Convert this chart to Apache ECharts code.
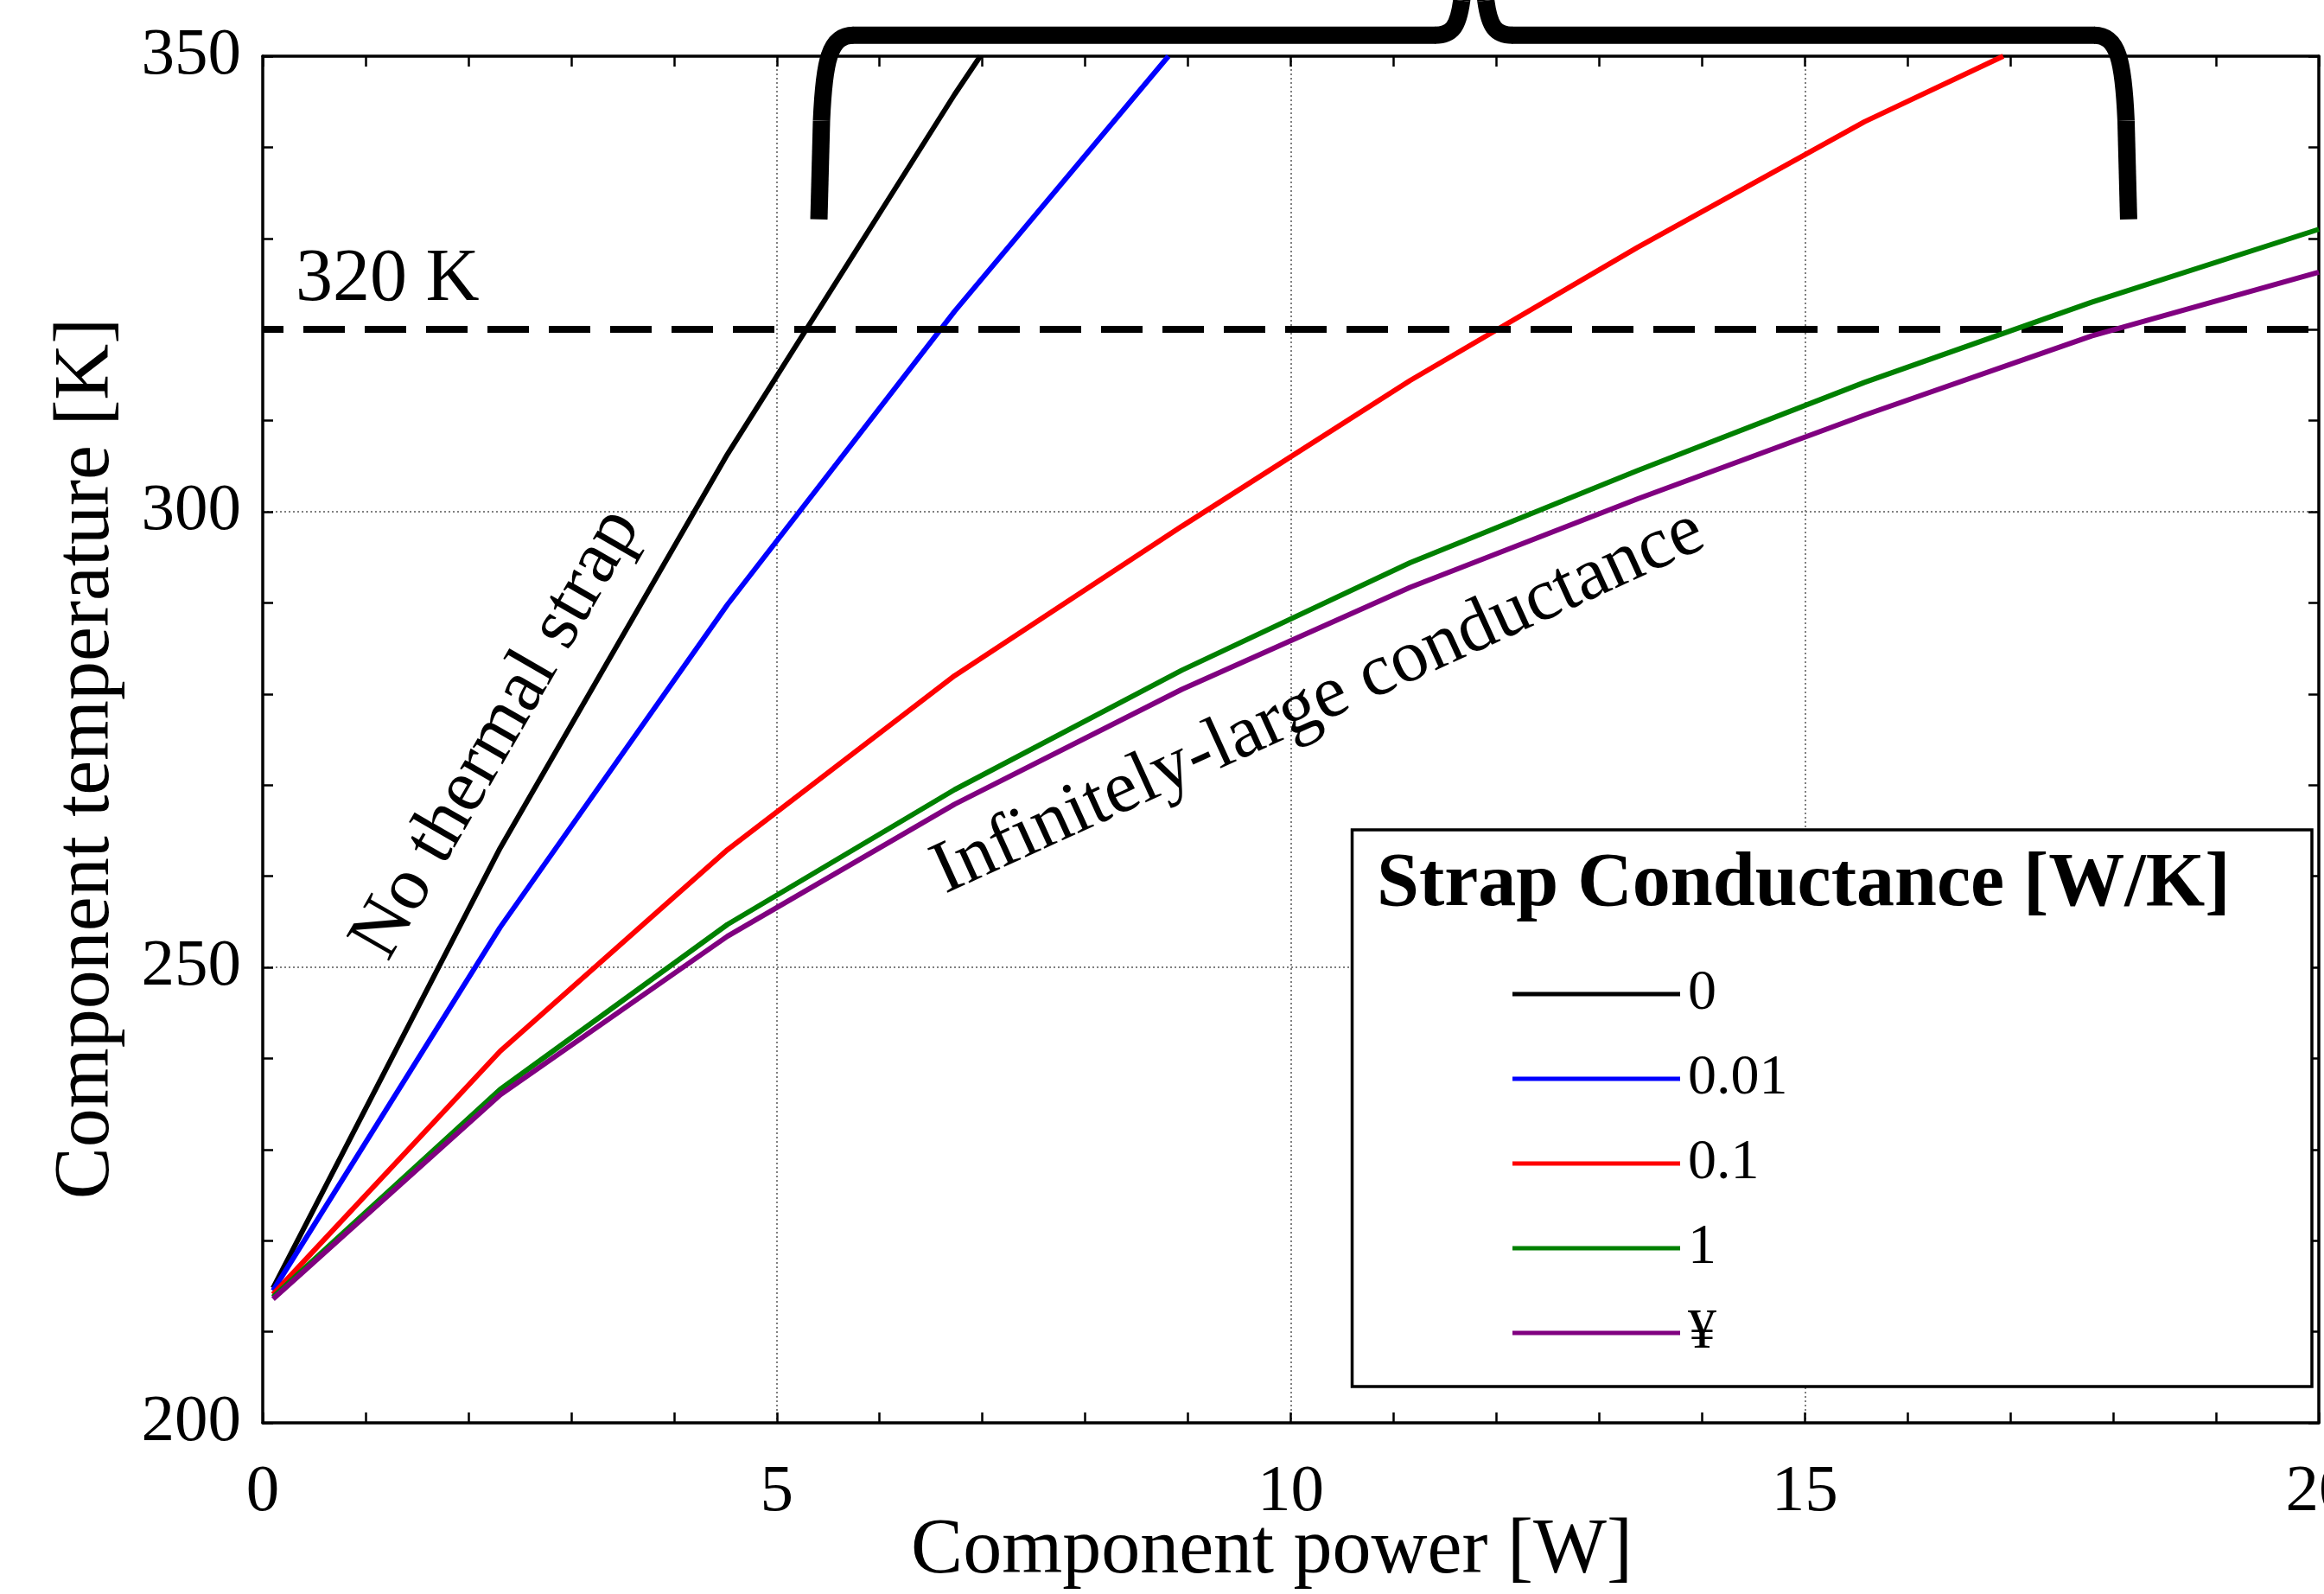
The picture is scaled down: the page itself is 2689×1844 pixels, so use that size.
<!DOCTYPE html>
<html lang="en">
<head>
<meta charset="utf-8">
<title>Component temperature vs power</title>
<script src="https://cdn.jsdelivr.net/npm/echarts@6/dist/echarts.min.js"></script>
<style>
    html, body { margin: 0; padding: 0; background: #fff; }
    #main { width: 2689px; height: 1844px; }
</style>
</head>
<body>
<div id="main"></div>
<script type="text/javascript">
    // component power [W]
    var power = [0.1, 2.31, 4.52, 6.73, 8.94, 11.16, 13.37, 15.58, 17.79, 20];
    // component temperature [K], one list per strap conductance
    var tempG0   = [214.8, 263.1, 306.3, 345.8];
    var tempG001 = [214.5, 254.4, 289.8, 322.0];
    var tempG01  = [214.1, 240.8, 262.9, 282.0, 298.4, 314.4, 329.0, 342.8];
    var tempG1   = [213.8, 236.6, 254.7, 269.5, 282.6, 294.4, 304.5, 314.2, 323.0, 331.0];
    var tempGinf = [213.6, 236.0, 253.4, 267.9, 280.5, 291.7, 301.4, 310.6, 319.3, 326.3];
    // power where the steep curves run out of the top of the plot
    var exitPower = [6.98, 8.81, 16.93, null, null];

    var names = ['0', '0.01', '0.1', '1', '¥'];
    var colors = ['#000000', '#0000ff', '#ff0000', '#008000', '#800080'];
    var xTicks = [0, 5, 10, 15, 20];
    var yTicks = [200, 250, 300, 350];
    var limitTemp = 320;

    var serif = "'Liberation Serif', 'Times New Roman', serif";
    var black = '#000';

    var temps = [tempG0, tempG001, tempG01, tempG1, tempGinf];
    var yTop = yTicks[yTicks.length - 1];

    var series = temps.map(function (t, i) {
        var pts = t.map(function (v, j) { return [power[j], v]; });
        if (exitPower[i] != null) pts.push([exitPower[i], yTop]);
        return {
            name: names[i],
            type: 'line',
            data: pts,
            showSymbol: false,
            symbol: 'none',
            clip: true,
            z: 2 + i,
            lineStyle: { color: colors[i], width: 6 },
            itemStyle: { color: colors[i] }
        };
    });

    // 320 K limit
    series[series.length - 1].markLine = {
        silent: true,
        symbol: 'none',
        label: { show: false },
        lineStyle: { color: black, width: 8, type: [48, 23], dashOffset: 24 },
        data: [{ yAxis: limitTemp }]
    };

    var gridLine = { color: '#808080', width: 2, type: [2, 3] };

    function xAxisCfg(pos) {
        var main = pos === 'bottom';
        return {
            type: 'value',
            position: pos,
            min: xTicks[0],
            max: xTicks[xTicks.length - 1],
            interval: xTicks[1] - xTicks[0],
            axisLine: { show: true, onZero: false, lineStyle: { color: black, width: 3.5 } },
            axisTick: { show: true, inside: true, length: 12, lineStyle: { color: black, width: 2.5 } },
            minorTick: { show: true, splitNumber: 5, length: 12, lineStyle: { color: black, width: 2.5 } },
            splitLine: { show: main, lineStyle: gridLine },
            axisLabel: { show: main, margin: 42, color: black, fontFamily: serif, fontSize: 77 },
            name: main ? 'Component power [W]' : '',
            nameLocation: 'middle',
            nameGap: 104,
            nameMoveOverlap: false,
            nameTextStyle: { color: black, fontFamily: serif, fontSize: 90, padding: [0, 44, 0, 0] }
        };
    }

    function yAxisCfg(pos) {
        var main = pos === 'left';
        return {
            type: 'value',
            position: pos,
            min: yTicks[0],
            max: yTop,
            interval: yTicks[1] - yTicks[0],
            axisLine: { show: true, onZero: false, lineStyle: { color: black, width: 3.5 } },
            axisTick: { show: true, inside: true, length: 12, lineStyle: { color: black, width: 2.5 } },
            minorTick: { show: true, splitNumber: 5, length: 12, lineStyle: { color: black, width: 2.5 } },
            splitLine: { show: main, lineStyle: gridLine },
            axisLabel: { show: main, margin: 25, color: black, fontFamily: serif, fontSize: 77 },
            name: main ? 'Component temperature [K]' : '',
            nameLocation: 'middle',
            nameGap: 158,
            nameMoveOverlap: false,
            nameTextStyle: { color: black, fontFamily: serif, fontSize: 90, padding: [0, 44, 0, 0] }
        };
    }

    var option = {
        backgroundColor: '#fff',
        animation: false,
        grid: { left: 304, right: 6, top: 65, bottom: 198, containLabel: false, outerBoundsMode: 'none' },
        xAxis: [xAxisCfg('bottom'), xAxisCfg('top')],
        yAxis: [yAxisCfg('left'), yAxisCfg('right')],
        legend: {
            orient: 'vertical',
            left: 1750,
            top: 1117,
            padding: 0,
            itemWidth: 194,
            itemHeight: 5,
            itemGap: 32,
            icon: 'rect',
            z: 10,
            selectedMode: false,
            textStyle: { color: black, fontFamily: serif, fontSize: 66, lineHeight: 66, padding: [0, 0, 0, 4] },
            data: names
        },
        series: series
    };

    var chart = echarts.init(document.getElementById('main'));
    chart.setOption(option);

    function px(p) { return chart.convertToPixel({ gridIndex: 0 }, p); }

    // annotation anchors in data units
    var label320At = [0.32, 325.4];
    var noStrapAt = [2.28, 275.6];
    var infiniteAt = [10.27, 279.1];
    var braceX = [5.41, 11.78, 18.15];
    var braceY = [332.1, 352.3];

    var a = px([braceX[0], braceY[0]]);
    var m = px([braceX[1], braceY[1]]);
    var b = px([braceX[2], braceY[0]]);
    var L = a[0], R = b[0], M = m[0], yb = a[1], yt = m[1];

    var braceStyle = { stroke: black, lineWidth: 20, fill: null, lineCap: 'butt' };
    function seg(x1, y1, x2, y2) {
        return { type: 'line', z: 20, silent: true, shape: { x1: x1, y1: y1, x2: x2, y2: y2 }, style: braceStyle };
    }
    function curve(x1, y1, c1x, c1y, c2x, c2y, x2, y2) {
        return {
            type: 'bezierCurve', z: 20, silent: true,
            shape: { x1: x1, y1: y1, cpx1: c1x, cpy1: c1y, cpx2: c2x, cpy2: c2y, x2: x2, y2: y2 },
            style: braceStyle
        };
    }

    var brace = [
        seg(L, yb, L + 3, yb - 114),
        curve(L + 3, yb - 114, L + 6, yt + 30, L + 12, yt, L + 40, yt),
        seg(L + 39, yt, M - 44, yt),
        curve(M - 45, yt, M - 25, yt, M - 18, yt - 10, M - 14, yt - 40),
        seg(M - 14, yt - 40, M - 10, yt - 70),
        seg(M + 10, yt - 70, M + 14, yt - 40),
        curve(M + 14, yt - 40, M + 18, yt - 10, M + 25, yt, M + 45, yt),
        seg(M + 44, yt, R - 39, yt),
        curve(R - 40, yt, R - 12, yt, R - 6, yt + 30, R - 3, yb - 114),
        seg(R - 3, yb - 114, R, yb)
    ];

    var p320 = px(label320At), pNo = px(noStrapAt), pInf = px(infiniteAt);

    var texts = [
        {
            type: 'text', z: 20, silent: true, x: p320[0], y: p320[1],
            style: { text: '320 K', x: 0, y: 0, align: 'left', verticalAlign: 'middle', fill: black, font: '86px ' + serif }
        },
        {
            type: 'text', z: 20, silent: true, x: pNo[0], y: pNo[1], rotation: 60 * Math.PI / 180,
            style: { text: 'No thermal strap', x: 0, y: 0, align: 'center', verticalAlign: 'middle', fill: black, font: '87px ' + serif }
        },
        {
            type: 'text', z: 20, silent: true, x: pInf[0], y: pInf[1], rotation: 24.5 * Math.PI / 180,
            style: { text: 'Infinitely-large conductance', x: 0, y: 0, align: 'center', verticalAlign: 'middle', fill: black, font: '86px ' + serif }
        },
        {
            type: 'rect', z: 8, silent: true,
            shape: { x: 1564.5, y: 960, width: 1110.5, height: 644 },
            style: { fill: '#fff', stroke: black, lineWidth: 3.5 }
        },
        {
            type: 'text', z: 9, silent: true, x: 1593, y: 1024,
            style: { text: 'Strap Conductance [W/K]', x: 0, y: 0, align: 'left', verticalAlign: 'middle', fill: black, font: 'bold 88px ' + serif }
        }
    ];

    chart.setOption({ graphic: brace.concat(texts) });
</script>
</body>
</html>
